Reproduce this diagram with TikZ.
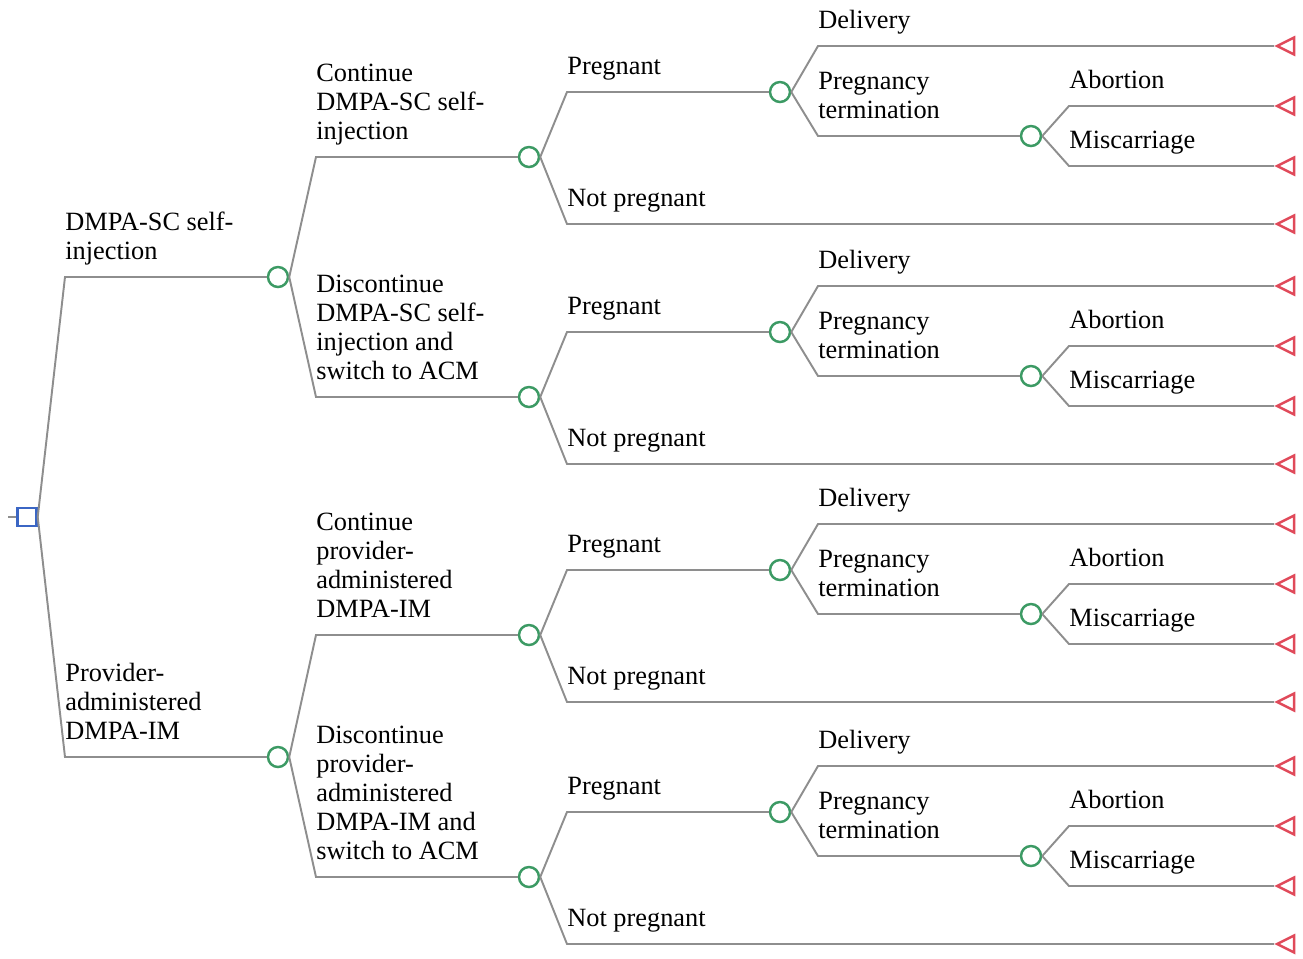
\documentclass[tikz,border=0pt]{standalone}
\usepackage{fontspec}
\setmainfont{Liberation Serif}
\usetikzlibrary{shapes.geometric,positioning}
\definecolor{edgegray}{HTML}{8E8E8E}
\definecolor{decblue}{HTML}{3B66C4}
\definecolor{chgreen}{HTML}{3C9A64}
\definecolor{termred}{HTML}{E04A5A}

\begin{document}
\begin{tikzpicture}[x=0.02cm,y=-0.02cm,
  edge/.style={draw=edgegray,line width=1.1pt},
  decision/.style={draw=decblue,line width=1.4pt,minimum width=0.38cm,minimum height=0.36cm,inner sep=0pt},
  chance/.style={circle,draw=chgreen,line width=1.4pt,minimum size=0.4cm,inner sep=0pt},
  terminal/.style={isosceles triangle,isosceles triangle stretches,shape border rotate=180,
    draw=termred,line width=1.4pt,minimum width=0.34cm,minimum height=0.34cm,inner sep=0pt,anchor=apex},
  lbl/.style={anchor=south west,inner sep=0pt,text depth=0pt,align=left,
    font=\fontsize{15}{16.5}\selectfont}]
\useasboundingbox (0,0) rectangle (1303,958);
% decision
\node[decision] (dec) at (27,517) {};
\coordinate (stub) at (8,517);
\draw[edge] (stub) -- (dec);
% first level
\node[chance] (c1) at (278,277) {};
\node[chance] (c2) at (278,757) {};
\coordinate (k1) at (65,277);
\coordinate (k2) at (65,757);
\draw[edge] (dec.east) -- (k1) -- (c1);
\draw[edge] (dec.east) -- (k2) -- (c2);
\node[lbl] (l1) at (65,260) {DMPA-SC self-\\injection};
\node[lbl] (l2) at (65,740) {Provider-\\administered\\DMPA-IM};
% subtrees
\foreach \i/\y/\p/\txt in {
  1/157/c1/{Continue\\DMPA-SC self-\\injection},
  2/397/c1/{Discontinue\\DMPA-SC self-\\injection and\\switch to ACM},
  3/635/c2/{Continue\\provider-\\administered\\DMPA-IM},
  4/877/c2/{Discontinue\\provider-\\administered\\DMPA-IM and\\switch to ACM}}{
  \node[chance] (s\i) at (529,\y) {};
  \coordinate (ks\i) at (316,\y);
  \draw[edge] (\p.east) -- (ks\i) -- (s\i);
  \node[lbl] (ls\i) at (316,{\y-17}) {\txt};
  % pregnant / not pregnant
  \node[chance] (p\i) at (780,{\y-65}) {};
  \coordinate (kp\i) at (567,{\y-65});
  \draw[edge] (s\i.east) -- (kp\i) -- (p\i);
  \node[lbl] (lp\i) at (567,{\y-82}) {Pregnant};
  \node[terminal] (tn\i) at (1274,{\y+67}) {};
  \coordinate (kn\i) at (567,{\y+67});
  \draw[edge] (s\i.east) -- (kn\i) -- (tn\i.apex);
  \node[lbl] (ln\i) at (567,{\y+50}) {Not pregnant};
  % delivery / termination
  \node[terminal] (td\i) at (1274,{\y-111}) {};
  \coordinate (kd\i) at (818,{\y-111});
  \draw[edge] (p\i.east) -- (kd\i) -- (td\i.apex);
  \node[lbl] (ld\i) at (818,{\y-128}) {Delivery};
  \node[chance] (q\i) at (1031,{\y-21}) {};
  \coordinate (kq\i) at (818,{\y-21});
  \draw[edge] (p\i.east) -- (kq\i) -- (q\i);
  \node[lbl] (lq\i) at (818,{\y-38}) {Pregnancy\\termination};
  % abortion / miscarriage
  \node[terminal] (ta\i) at (1274,{\y-51}) {};
  \coordinate (ka\i) at (1069,{\y-51});
  \draw[edge] (q\i.east) -- (ka\i) -- (ta\i.apex);
  \node[lbl] (la\i) at (1069,{\y-68}) {Abortion};
  \node[terminal] (tm\i) at (1274,{\y+9}) {};
  \coordinate (km\i) at (1069,{\y+9});
  \draw[edge] (q\i.east) -- (km\i) -- (tm\i.apex);
  \node[lbl] (lm\i) at (1069,{\y-8}) {Miscarriage};
}
\end{tikzpicture}
\end{document}
